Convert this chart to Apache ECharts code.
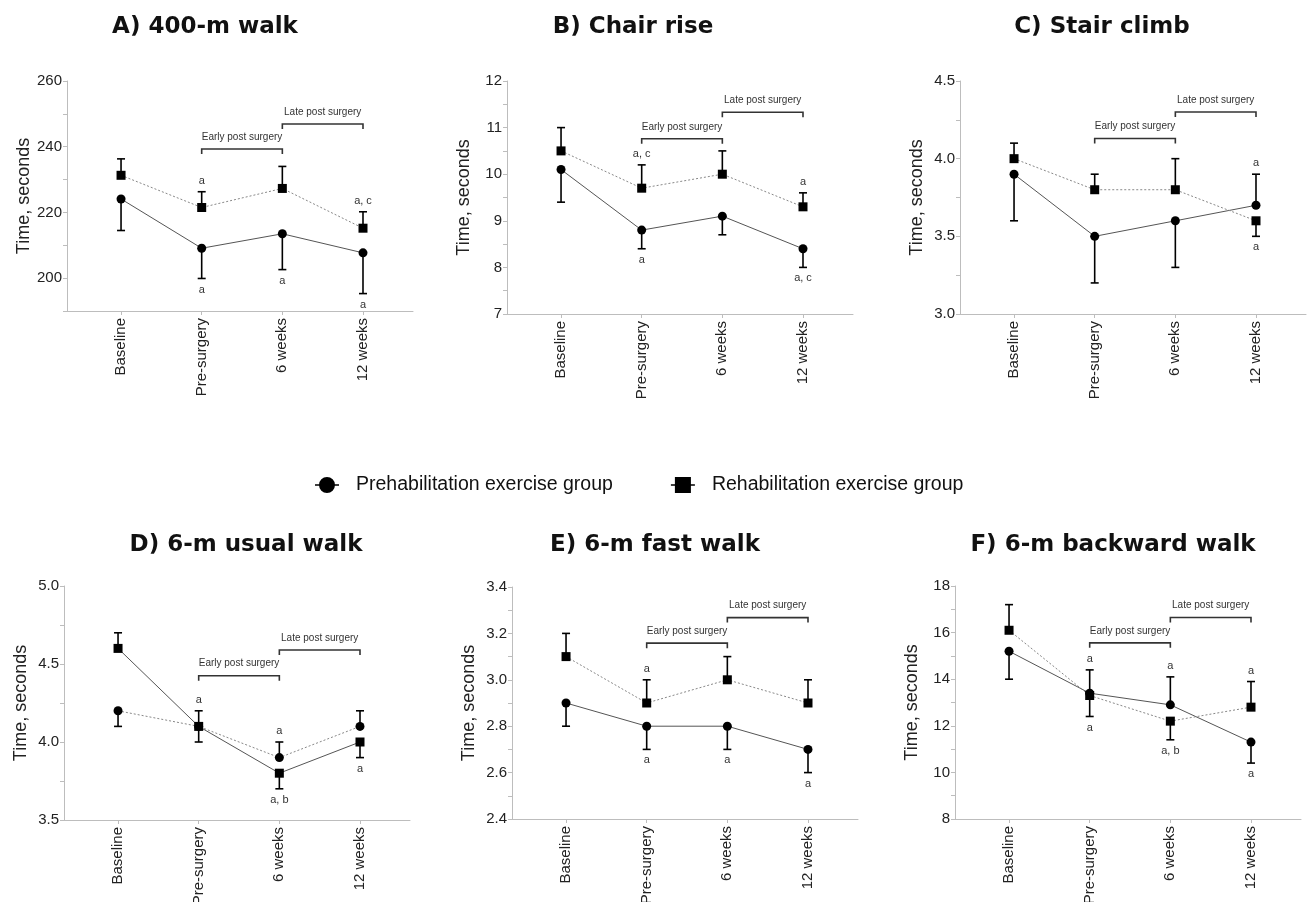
<!DOCTYPE html>
<html>
<head>
<meta charset="utf-8">
<script src="https://cdn.jsdelivr.net/npm/echarts@6/dist/echarts.min.js"></script>
<style>
  html, body { margin: 0; padding: 0; background: #fff; }
  #chart { width: 1309px; height: 902px; }
</style>
</head>
<body>
<div id="chart"></div>
<script>
// categories and group names
const categories = ['Baseline', 'Pre-surgery', '6 weeks', '12 weeks'];
const groupNames = ['Prehabilitation exercise group', 'Rehabilitation exercise group'];
const bracketNames = ['Early post surgery', 'Late post surgery'];

// A) 400-m walk
const walk400Pre = [224.1, 209.1, 213.5, 207.7];
const walk400PreErr = [214.5, 199.9, 202.6, 195.3];
const walk400PreNote = ['', 'a', 'a', 'a'];
const walk400Reh = [231.3, 221.5, 227.3, 215.2];
const walk400RehErr = [236.3, 226.3, 234.0, 220.2];
const walk400RehNote = ['', 'a', '', 'a, c'];
const walk400Brackets = [239.3, 246.9];

// B) Chair rise
const chairPre = [10.1, 8.8, 9.1, 8.4];
const chairPreErr = [9.4, 8.4, 8.7, 8.0];
const chairPreNote = ['', 'a', '', 'a, c'];
const chairReh = [10.5, 9.7, 10.0, 9.3];
const chairRehErr = [11.0, 10.2, 10.5, 9.6];
const chairRehNote = ['', 'a, c', '', 'a'];
const chairBrackets = [10.76, 11.33];

// C) Stair climb
const stairPre = [3.9, 3.5, 3.6, 3.7];
const stairPreErr = [3.6, 3.2, 3.3, 3.9];
const stairPreNote = ['', '', '', 'a'];
const stairReh = [4.0, 3.8, 3.8, 3.6];
const stairRehErr = [4.1, 3.9, 4.0, 3.5];
const stairRehNote = ['', '', '', 'a'];
const stairBrackets = [4.13, 4.30];

// D) 6-m usual walk
const usualPre = [4.2, 4.1, 3.9, 4.1];
const usualPreErr = [4.1, 4.2, 4.0, 4.2];
const usualPreNote = ['', 'a', 'a', ''];
const usualReh = [4.6, 4.1, 3.8, 4.0];
const usualRehErr = [4.7, 4.0, 3.7, 3.9];
const usualRehNote = ['', '', 'a, b', 'a'];
const usualBrackets = [4.425, 4.59];

// E) 6-m fast walk
const fastPre = [2.9, 2.8, 2.8, 2.7];
const fastPreErr = [2.8, 2.7, 2.7, 2.6];
const fastPreNote = ['', 'a', 'a', 'a'];
const fastReh = [3.1, 2.9, 3.0, 2.9];
const fastRehErr = [3.2, 3.0, 3.1, 3.0];
const fastRehNote = ['', 'a', '', ''];
const fastBrackets = [3.158, 3.268];

// F) 6-m backward walk
const backPre = [15.2, 13.4, 12.9, 11.3];
const backPreErr = [14.0, 14.4, 14.1, 10.4];
const backPreNote = ['', 'a', 'a', 'a'];
const backReh = [16.1, 13.3, 12.2, 12.8];
const backRehErr = [17.2, 12.4, 11.4, 13.9];
const backRehNote = ['', 'a', 'a, b', 'a'];
const backBrackets = [15.56, 16.65];

const FONT = "'Liberation Sans', Arial, sans-serif";

// one entry per panel: data + layout
const panels = [
  { title: 'A) 400-m walk', tx: 200, ty: 11, left: 67, top: 81, height: 230, min: 190, max: 260, step: 10, labelStep: 20, dec: 0,
    pre: walk400Pre, preErr: walk400PreErr, preNote: walk400PreNote, reh: walk400Reh, rehErr: walk400RehErr, rehNote: walk400RehNote,
    brackets: walk400Brackets, solidRehab: false },
  { title: 'B) Chair rise', tx: 628, ty: 11, left: 507, top: 81, height: 233, min: 7, max: 12, step: 0.5, labelStep: 1, dec: 0,
    pre: chairPre, preErr: chairPreErr, preNote: chairPreNote, reh: chairReh, rehErr: chairRehErr, rehNote: chairRehNote,
    brackets: chairBrackets, solidRehab: false },
  { title: 'C) Stair climb', tx: 1097, ty: 11, left: 960, top: 81, height: 233, min: 3, max: 4.5, step: 0.25, labelStep: 0.5, dec: 1,
    pre: stairPre, preErr: stairPreErr, preNote: stairPreNote, reh: stairReh, rehErr: stairRehErr, rehNote: stairRehNote,
    brackets: stairBrackets, solidRehab: false },
  { title: 'D) 6-m usual walk', tx: 241, ty: 529, left: 64, top: 586, height: 234, min: 3.5, max: 5, step: 0.25, labelStep: 0.5, dec: 1,
    pre: usualPre, preErr: usualPreErr, preNote: usualPreNote, reh: usualReh, rehErr: usualRehErr, rehNote: usualRehNote,
    brackets: usualBrackets, solidRehab: true },
  { title: 'E) 6-m fast walk', tx: 650, ty: 529, left: 512, top: 587, height: 232, min: 2.4, max: 3.4, step: 0.1, labelStep: 0.2, dec: 1,
    pre: fastPre, preErr: fastPreErr, preNote: fastPreNote, reh: fastReh, rehErr: fastRehErr, rehNote: fastRehNote,
    brackets: fastBrackets, solidRehab: false },
  { title: 'F) 6-m backward walk', tx: 1108, ty: 529, left: 955, top: 586, height: 233, min: 8, max: 18, step: 1, labelStep: 2, dec: 0,
    pre: backPre, preErr: backPreErr, preNote: backPreNote, reh: backReh, rehErr: backRehErr, rehNote: backRehNote,
    brackets: backBrackets, solidRehab: false }
];

const axisGray = '#bdbdbd';

function errorBarSeries(i, means, ends, notes) {
  return {
    type: 'custom',
    xAxisIndex: i,
    yAxisIndex: i,
    z: 2,
    silent: true,
    data: means.map((m, j) => [j, m, ends[j]]),
    encode: { x: 0, y: [1, 2] },
    renderItem: function (params, api) {
      const x = api.value(0);
      const m = api.coord([x, api.value(1)]);
      const e = api.coord([x, api.value(2)]);
      const dir = e[1] < m[1] ? -1 : 1;
      const note = notes[params.dataIndex];
      const children = [
        { type: 'line', shape: { x1: m[0], y1: m[1], x2: e[0], y2: e[1] }, style: { stroke: '#000', lineWidth: 1.6 } },
        { type: 'line', shape: { x1: e[0] - 4, y1: e[1], x2: e[0] + 4, y2: e[1] }, style: { stroke: '#000', lineWidth: 1.6 } }
      ];
      if (note) {
        children.push({
          type: 'text', x: e[0], y: e[1] + dir * 11,
          style: { text: note, fontSize: 11, fontFamily: FONT, fill: '#333', align: 'center', verticalAlign: 'middle' }
        });
      }
      return { type: 'group', children: children };
    }
  };
}

function bracketSeries(i, levels) {
  return {
    type: 'custom',
    xAxisIndex: i,
    yAxisIndex: i,
    silent: true,
    data: [[1, 2, levels[0]], [2, 3, levels[1]]],
    encode: { x: [0, 1], y: 2 },
    renderItem: function (params, api) {
      const p0 = api.coord([api.value(0), api.value(2)]);
      const p1 = api.coord([api.value(1), api.value(2)]);
      return {
        type: 'group',
        children: [
          { type: 'polyline', shape: { points: [[p0[0], p0[1] + 5], [p0[0], p0[1]], [p1[0], p1[1]], [p1[0], p1[1] + 5]] },
            style: { stroke: '#333', lineWidth: 1.6, fill: null } },
          { type: 'text', x: (p0[0] + p1[0]) / 2, y: p0[1] - 12,
            style: { text: bracketNames[params.dataIndex], fontSize: 10, fontFamily: FONT, fill: '#333', align: 'center', verticalAlign: 'middle' } }
        ]
      };
    }
  };
}

const grid = [], xAxis = [], yAxis = [], series = [], title = [];

panels.forEach((p, i) => {
  title.push({
    text: p.title, left: p.tx, top: p.ty, textAlign: 'center',
    textStyle: { fontFamily: 'DejaVu Sans', fontWeight: 'bold', fontSize: 23, color: '#111' }
  });
  // outerBoundsMode none: keep the exact plot box, labels may run to the page edge
  grid.push({ left: p.left, top: p.top, width: 346, height: p.height, containLabel: false, outerBoundsMode: 'none' });
  xAxis.push({
    gridIndex: i, type: 'value', min: -0.67, max: 3.62,
    splitLine: { show: false },
    axisLine: { onZero: false, lineStyle: { color: axisGray, width: 1 } },
    axisTick: { customValues: [0, 1, 2, 3], length: 4, lineStyle: { color: axisGray } },
    axisLabel: {
      customValues: [0, 1, 2, 3], rotate: 90, margin: 7, fontSize: 15, fontFamily: FONT, color: '#222',
      formatter: v => categories[Math.round(v)]
    }
  });
  yAxis.push({
    gridIndex: i, type: 'value', min: p.min, max: p.max, interval: p.step,
    name: 'Time, seconds', nameLocation: 'middle', nameGap: 34,
    nameTextStyle: { fontSize: 18, fontFamily: FONT, color: '#222' },
    splitLine: { show: false },
    axisLine: { show: true, onZero: false, lineStyle: { color: axisGray, width: 1 } },
    axisTick: { show: true, length: 4, lineStyle: { color: axisGray } },
    axisLabel: {
      margin: 5, fontSize: 15, fontFamily: FONT, color: '#222',
      formatter: function (v) {
        const r = v / p.labelStep;
        return Math.abs(r - Math.round(r)) < 1e-6 ? v.toFixed(p.dec) : '';
      }
    }
  });
  const solid = { color: '#555', width: 1, type: 'solid' };
  const dotted = { color: '#888', width: 1, type: [2, 2] };
  series.push({
    name: groupNames[0], type: 'line', xAxisIndex: i, yAxisIndex: i, z: 3,
    data: p.pre.map((v, j) => [j, v]),
    symbol: 'circle', symbolSize: 9,
    itemStyle: { color: '#000' },
    lineStyle: p.solidRehab ? dotted : solid
  });
  series.push({
    name: groupNames[1], type: 'line', xAxisIndex: i, yAxisIndex: i, z: 3,
    data: p.reh.map((v, j) => [j, v]),
    symbol: 'rect', symbolSize: 9,
    itemStyle: { color: '#000' },
    lineStyle: p.solidRehab ? solid : dotted
  });
  series.push(errorBarSeries(i, p.pre, p.preErr, p.preNote));
  series.push(errorBarSeries(i, p.reh, p.rehErr, p.rehNote));
  series.push(bracketSeries(i, p.brackets));
});

const chart = echarts.init(document.getElementById('chart'), null, { renderer: 'canvas' });
chart.setOption({
  backgroundColor: '#fff',
  animation: false,
  title: title,
  legend: {
    left: 310, top: 470, itemGap: 58, itemWidth: 24, itemHeight: 16,
    selectedMode: false,
    itemStyle: { color: '#000', borderWidth: 0 },
    textStyle: { fontSize: 19.5, fontFamily: FONT, color: '#111', padding: [0, 0, 0, 12] },
    data: [
      { name: groupNames[0], icon: 'path://M0,7.3H5V8.7H0Z M19,7.3H24V8.7H19Z M12,0A8,8 0 1,1 11.99,0Z' },
      { name: groupNames[1], icon: 'path://M0,7.3H5V8.7H0Z M19,7.3H24V8.7H19Z M4,0H20V16H4Z' }
    ]
  },
  grid: grid,
  xAxis: xAxis,
  yAxis: yAxis,
  series: series
});
</script>
</body>
</html>
